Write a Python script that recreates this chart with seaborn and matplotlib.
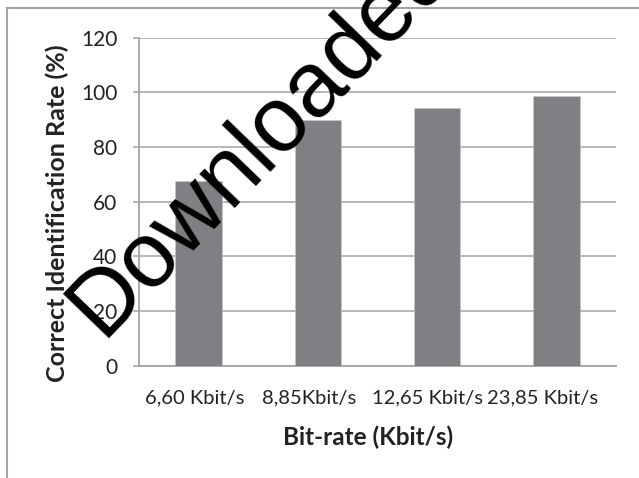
import matplotlib
matplotlib.use("Agg")
import matplotlib.pyplot as plt
from matplotlib.lines import Line2D
from matplotlib.transforms import ScaledTranslation
import seaborn as sns
import pandas as pd

categories = ["6,60 Kbit/s", "8,85Kbit/s", "12,65 Kbit/s", "23,85 Kbit/s"]
rates = [67.5, 89.8, 94.3, 98.7]
yticks = [0, 20, 40, 60, 80, 100, 120]

sns.set_theme(style="white")
plt.rcParams['font.family'] = ['Lato', 'DejaVu Sans']

W, H = 639, 478
fig = plt.figure(figsize=(W / 100, H / 100), dpi=100)
ax = fig.add_axes([139 / W, 1 - 365.6 / H, (616 - 139) / W, (365.6 - 37.5) / H])

df = pd.DataFrame({"cat": categories, "rate": rates})
sns.barplot(data=df, x="cat", y="rate", color="#808084", saturation=1,
            width=0.39, ax=ax, zorder=3, edgecolor="#c8c8c8", linewidth=0.4)

grey = "#a3a3a3"
ax.set_ylim(0, 120)
ax.set_xlim(-0.5, 3.5)
ax.set_yticks(yticks)
ax.set_yticklabels([str(v) for v in yticks])
ax.yaxis.grid(True, color=grey, linewidth=1.1, zorder=0)
ax.set_axisbelow(True)
for s in ["top", "right"]:
    ax.spines[s].set_visible(False)
for s in ["left", "bottom"]:
    ax.spines[s].set_color(grey)
    ax.spines[s].set_linewidth(1.3)
ax.tick_params(axis="y", which="major", length=4.5, width=1.1, color=grey,
               direction="out", pad=11, labelsize=15, labelcolor="#222222", left=True)
ax.tick_params(axis="x", length=0, pad=17, labelsize=14.5, labelcolor="#222222")
ax.set_xlabel("")
ax.set_ylabel("")

# small horizontal shifts of category labels as in the reference
shifts_px = [-4, -8.5, -10, -13.5]
for lab, dx in zip(ax.get_xticklabels(), shifts_px):
    lab.set_transform(lab.get_transform() + ScaledTranslation(dx / 100, 0, fig.dpi_scale_trans))

fig.text(368 / W, 1 - 437 / H, "Bit-rate (Kbit/s)", ha="center", va="center",
         fontsize=17.5, fontweight="bold", color="#222222")
fig.text(57 / W, 1 - 213 / H, "Correct Identification Rate (%)", ha="center", va="center",
         rotation=90, fontsize=18, fontweight="bold", color="#222222")

# outer chart frame (partly cropped)
fig.add_artist(Line2D([7 / W, 7 / W], [0, 1 - 8 / H], color=grey, lw=1.5, transform=fig.transFigure))
fig.add_artist(Line2D([7 / W, 1], [1 - 8 / H, 1 - 8 / H], color=grey, lw=1.5, transform=fig.transFigure))

# watermark
fig.text(102 / W, 1 - 338 / H, "Downloaded", ha="left", va="baseline", rotation=46,
         rotation_mode="anchor", fontsize=66, family="Liberation Sans", color="black", zorder=10)

fig.savefig("out.png", dpi=100)
